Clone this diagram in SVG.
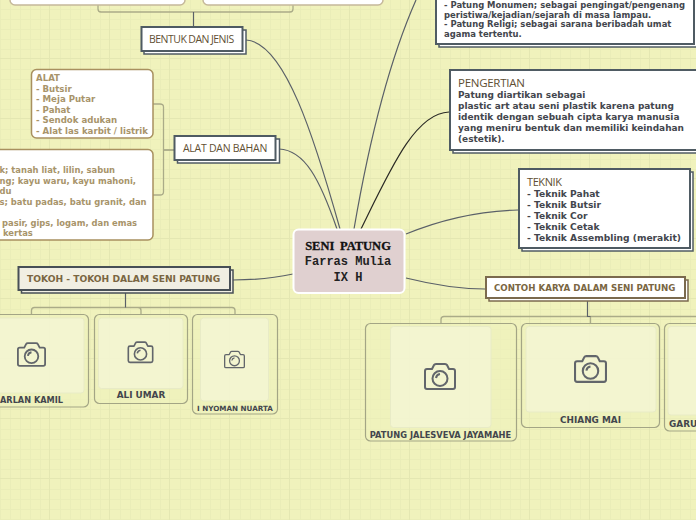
<svg xmlns="http://www.w3.org/2000/svg" width="696" height="520" viewBox="0 0 696 520">
<style>
.b{font-family:"DejaVu Sans",sans-serif;font-weight:700;font-size:8.97px;fill:#43464d}
.top{font-size:8.45px}
.tk{font-size:9.15px}
.tan{font-family:"DejaVu Sans",sans-serif;font-weight:700;font-size:8.6px;fill:#a8946a}
.h{font-family:"Open Sans","Noto Sans",sans-serif;font-size:10.5px;fill:#5f4f33;letter-spacing:-.27px}
.caps{font-family:"DejaVu Sans",sans-serif;font-weight:700;fill:#7a6642}
.cap{font-family:"DejaVu Sans",sans-serif;font-weight:700;font-size:8.9px;fill:#43464d;text-anchor:middle}
.lead{fill:#fff;stroke:#4f5b63;stroke-width:2}
.sh{fill:#fff;stroke:#4f5b63;stroke-width:1.5}
.leaf{fill:#fff;stroke:#a8905f;stroke-width:1.5}
.card{fill:#eef1bd;fill-opacity:.6;stroke:#a3a585;stroke-width:1.2}
.inner{fill:#f5f7d8;fill-opacity:.7;stroke:#e8ebc6;stroke-width:1}
.c{fill:none;stroke:#5a6068;stroke-width:1.2}
.br{fill:none;stroke:#aaab88;stroke-width:1.3}
.cam{fill:none;stroke:#62666b;stroke-width:2;stroke-linejoin:round}
</style>
<defs>
<pattern id="grid" width="60" height="60" patternUnits="userSpaceOnUse" x="-10" y="-1">
<rect width="60" height="60" fill="#f0f2bc"/>
<path d="M10.5 0V60M20.5 0V60M30.5 0V60M40.5 0V60M50.5 0V60M0 10.5H60M0 20.5H60M0 30.5H60M0 40.5H60M0 50.5H60" stroke="#eaedb8" stroke-width="1"/>
<path d="M60 0V60M0 60H60" stroke="#e4e7b2" stroke-width="2"/>
</pattern>
<symbol id="camera" viewBox="0 0 32 27" overflow="visible">
<path class="cam" d="M3 6H8L10 2Q10.500 1 12 1H21Q22.500 1 23 2L25 6H29Q31 6 31 8V24Q31 26 29 26H3Q1 26 1 24V8Q1 6 3 6Z"/>
<circle class="cam" cx="16" cy="15.500" r="7.500"/>
<path class="cam" stroke-width="1.200" d="M12 15Q12.500 11.500 16 11"/>
</symbol>
</defs>
<rect width="696" height="520" fill="url(#grid)"/>

<g id="connectors">
<path class="c" d="M246 40C285 42 315 140 340 229"/>
<path class="c" d="M279 149C305 150 320 180 337 229"/>
<path class="c" d="M354 229C365 165 385 70 416 0"/>
<path class="c" d="M361 229C390 170 415 113 449 112" style="stroke:#2a2a25"/>
<path class="c" d="M406 234C440 220 480 211 518 210"/>
<path class="c" d="M406 278C430 284 455 289 485 289"/>
<path class="c" d="M293 274C275 278 255 280 233 280"/>
<path class="br" style="stroke-width:1.800" d="M174 150H164"/>
<path class="br" d="M153 104H160Q163.500 104 163.500 107V192Q163.500 195 160 195H153"/>
<path class="br" d="M98 5V9Q98 12 101 12H290Q293 12 293 9V5"/>
<path class="c" d="M193.500 12V27"/>
<path class="br" d="M31.500 314V310.500Q31.500 307.500 34.500 307.500H232Q235 307.500 235 310.500V314M141 314V310.500Q141 307.500 138 307.500"/>
<path class="c" d="M125.500 293V307.500"/>
<path class="br" d="M441 323V319.500Q441 316.500 444 316.500H696M590.500 323V316.500"/>
<path class="c" d="M587.500 300V316.500H590.500"/>
</g>

<g id="n-top-left"><rect class="leaf" x="10" y="-20" width="175" height="25" rx="5" style="stroke:#c5b89a"/></g>
<g id="n-top-mid"><rect class="leaf" x="203" y="-20" width="180" height="25" rx="5" style="stroke:#c5b89a"/></g>

<g id="n-bentuk">
<rect class="sh" x="144" y="30" width="102" height="24"/><rect class="lead" x="141.500" y="27" width="101" height="24"/>
<text class="h" style="letter-spacing:-.5px;word-spacing:-.3px" x="149" y="42.500">BENTUK DAN JENIS</text>
</g>
<g id="n-alat-bahan">
<rect class="sh" x="177.500" y="139" width="102" height="24"/><rect class="lead" x="174.500" y="136" width="101" height="24"/>
<text class="h" x="183" y="152">ALAT DAN BAHAN</text>
</g>
<g id="n-alat">
<rect class="leaf" x="31.500" y="69.500" width="121.500" height="68.500" rx="5"/>
<text class="tan" x="36" y="81">ALAT</text>
<text class="tan" x="36" y="91.500">- Butsir</text>
<text class="tan" x="36" y="102">- Meja Putar</text>
<text class="tan" x="36" y="112.500">- Pahat</text>
<text class="tan" x="36" y="123">- Sendok adukan</text>
<text class="tan" x="36" y="133.500">- Alat las karbit / listrik</text>
</g>
<g id="n-bahan">
<rect class="leaf" x="-20" y="149.500" width="173" height="90.500" rx="5"/>
<text class="tan" style="font-size:8.4px" x="-.5" y="172.500">k; tanah liat, lilin, sabun</text>
<text class="tan" style="font-size:8.4px" x="-.5" y="183.500">ng; kayu waru, kayu mahoni,</text>
<text class="tan" style="font-size:8.4px" x="-.5" y="193.500">du</text>
<text class="tan" style="font-size:8.4px" x="-.5" y="204.500">s; batu padas, batu granit, dan</text>
<text class="tan" style="font-size:8.4px" x="2" y="225.500">pasir, gips, logam, dan emas</text>
<text class="tan" style="font-size:8.4px" x="3" y="235.500">kertas</text>
</g>
<g id="n-fungsi">
<rect class="sh" x="439" y="-20" width="260" height="67"/><rect class="lead" x="436" y="-20" width="258" height="64"/>
<text class="b top" x="444" y="8">- Patung Monumen; sebagai pengingat/pengenang</text>
<text class="b top" x="444" y="17.500">peristiwa/kejadian/sejarah di masa lampau.</text>
<text class="b top" x="444" y="27">- Patung Religi; sebagai sarana beribadah umat</text>
<text class="b top" x="444" y="36.500">agama tertentu.</text>
</g>
<g id="n-pengertian">
<rect class="sh" x="453" y="73" width="250" height="80"/><rect class="lead" x="450" y="70" width="250" height="80"/>
<text class="h" style="font-size:11.5px" x="458" y="86.500">PENGERTIAN</text>
<text class="b" x="458" y="98">Patung diartikan sebagai</text>
<text class="b" x="458" y="109">plastic art atau seni plastik karena patung</text>
<text class="b" x="458" y="120">identik dengan sebuah cipta karya manusia</text>
<text class="b" x="458" y="131">yang meniru bentuk dan memiliki keindahan</text>
<text class="b" x="458" y="142">(estetik).</text>
</g>
<g id="n-teknik">
<rect class="sh" x="522" y="172" width="171" height="79"/><rect class="lead" x="519" y="169" width="171" height="79"/>
<text class="h" style="font-size:11px;letter-spacing:-.4px" x="527" y="186">TEKNIK</text>
<text class="b tk" x="527" y="197">- Teknik Pahat</text>
<text class="b tk" x="527" y="208">- Teknik Butsir</text>
<text class="b tk" x="527" y="219">- Teknik Cor</text>
<text class="b tk" x="527" y="230">- Teknik Cetak</text>
<text class="b tk" x="527" y="241">- Teknik Assembling (merakit)</text>
</g>
<g id="n-contoh">
<rect x="489" y="280" width="199" height="21" fill="#fff" stroke="#7b6a4e" stroke-width="1.500"/><rect x="486" y="277" width="199" height="21" fill="#fff" stroke="#7b6a4e" stroke-width="2"/>
<text class="caps" font-size="8.67" x="494" y="291">CONTOH KARYA DALAM SENI PATUNG</text>
</g>
<g id="n-tokoh">
<rect x="21.500" y="270" width="211.500" height="23" fill="#f1efe3" stroke="#474f56" stroke-width="1.500"/><rect x="18.500" y="267" width="211.500" height="23" fill="#f1efe3" stroke="#474f56" stroke-width="2"/>
<text class="caps" font-size="9.15" x="27" y="282">TOKOH - TOKOH DALAM SENI PATUNG</text>
</g>
<g id="n-center">
<rect x="293.500" y="229.500" width="111" height="63.500" rx="5" fill="#e0d0d0" stroke="#fff" stroke-width="2"/>
<text x="348" y="249.500" text-anchor="middle" font-family="'Liberation Serif',serif" font-weight="700" font-size="12.5" word-spacing="2.500" fill="#111" stroke="#111" stroke-width=".3">SENI PATUNG</text>
<text x="348" y="265" text-anchor="middle" font-family="'Liberation Mono',monospace" font-weight="700" font-size="12" fill="#222">Farras Mulia</text>
<text x="348" y="281" text-anchor="middle" font-family="'Liberation Mono',monospace" font-weight="700" font-size="12" fill="#222">IX H</text>
</g>
<g id="n-harlan">
<rect class="card" x="-20" y="314.500" width="108.500" height="92.500" rx="5"/><rect class="inner" x="-20" y="318" width="104" height="75" rx="3"/>
<use href="#camera" x="17" y="342" width="29" height="25"/>
<text class="cap" style="text-anchor:start;font-size:8.2px" x="0" y="403">ARLAN KAMIL</text>
</g>
<g id="n-ali">
<rect class="card" x="94.500" y="314.500" width="93" height="89" rx="5"/><rect class="inner" x="98.500" y="318" width="84.500" height="70.500" rx="3"/>
<use href="#camera" x="127.500" y="341" width="26" height="22.500"/>
<text class="cap" x="141" y="398">ALI UMAR</text>
</g>
<g id="n-nuarta">
<rect class="card" x="192.500" y="314.500" width="85" height="99.500" rx="5"/><rect class="inner" x="200.500" y="318" width="68" height="83" rx="3"/>
<use href="#camera" x="224" y="350.500" width="21" height="18"/>
<text class="cap" style="font-size:7.2px" x="235" y="411">I NYOMAN NUARTA</text>
</g>
<g id="n-jalesveva">
<rect class="card" x="365.500" y="323.500" width="151" height="117.500" rx="5"/><rect class="inner" x="390.500" y="326.500" width="100.500" height="101" rx="3"/>
<use href="#camera" x="424" y="363" width="32" height="27"/>
<text class="cap" style="font-size:8.3px" x="440.500" y="437.500">PATUNG JALESVEVA JAYAMAHE</text>
</g>
<g id="n-chiang">
<rect class="card" x="521.500" y="323.500" width="138" height="104" rx="5"/><rect class="inner" x="526" y="326.500" width="130" height="85.500" rx="3"/>
<use href="#camera" x="574" y="355" width="33" height="28"/>
<text class="cap" x="590.500" y="422.500">CHIANG MAI</text>
</g>
<g id="n-garu">
<rect class="card" x="664.500" y="323.500" width="60" height="107.500" rx="5"/><rect class="inner" x="668" y="326.500" width="50" height="88.500" rx="3"/>
<text class="cap" style="text-anchor:start" x="669" y="426.500">GARU</text>
</g>
</svg>
